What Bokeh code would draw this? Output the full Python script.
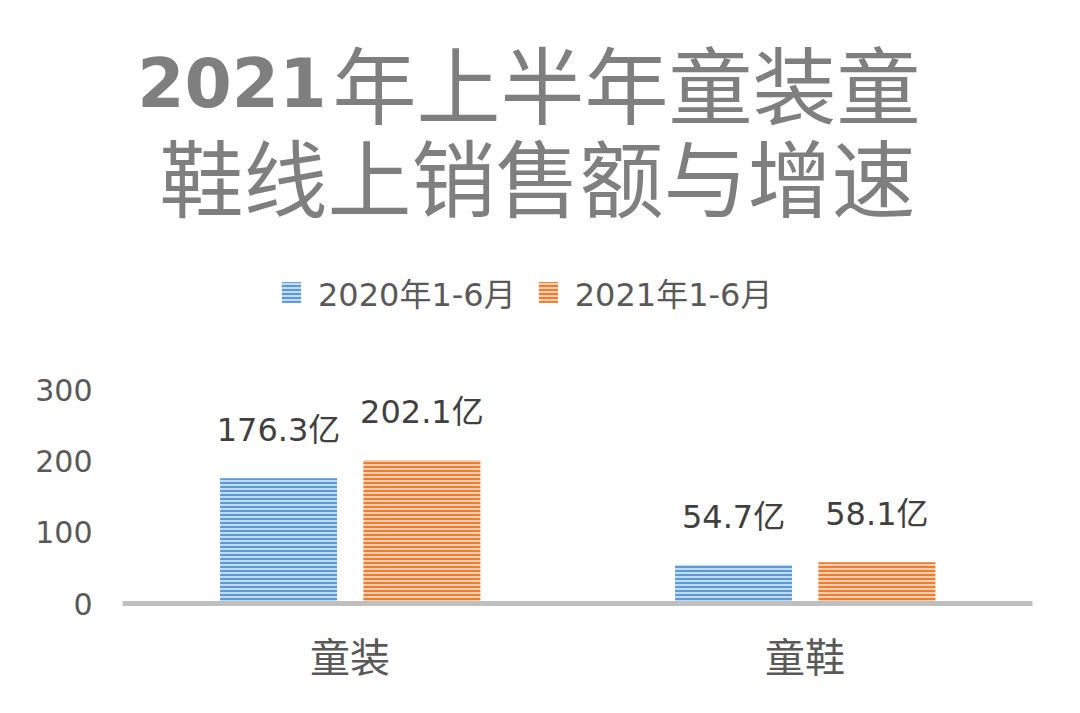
from bokeh.plotting import figure
from bokeh.models import ColumnDataSource, FactorRange, Label, Legend, LegendItem, FixedTicker
from bokeh.transform import dodge
from bokeh.core.properties import value
from bokeh.embed import file_html
from bokeh.resources import INLINE

categories = ["童装", "童鞋"]
series_names = ["2020年1-6月", "2021年1-6月"]
values_2020 = [176.3, 54.7]
values_2021 = [202.1, 58.1]
y_ticks = [0, 100, 200, 300]
title_year = "2021"
title_rest = "年上半年童装童"
title_line2 = "鞋线上销售额与增速"

LATIN = "'DejaVu Sans', 'Noto Sans CJK SC'"
CJK = "'Noto Sans CJK SC'"

src = ColumnDataSource(dict(
    cat=categories,
    v20=values_2020,
    v21=values_2021,
    l20=[f"{v}亿" for v in values_2020],
    l21=[f"{v}亿" for v in values_2021],
))

p = figure(
    width=1064, height=697,
    x_range=FactorRange(*categories, range_padding=0),
    y_range=(0, 849),
    output_backend="svg", toolbar_location=None,
    min_border_left=122, min_border_right=32,
    min_border_top=0, min_border_bottom=94,
)
p.outline_line_color = None
p.xgrid.visible = False
p.ygrid.visible = False
p.background_fill_color = "white"
p.border_fill_color = "white"

r1 = p.vbar(x=dodge("cat", -0.157, range=p.x_range), top="v20", width=0.257, source=src,
            fill_color="#c3dbf1", line_color=None,
            hatch_pattern="horizontal_line", hatch_color="#5b9bd5", hatch_scale=4, hatch_weight=2)
r2 = p.vbar(x=dodge("cat", 0.158, range=p.x_range), top="v21", width=0.257, source=src,
            fill_color="#f9cfb1", line_color=None,
            hatch_pattern="horizontal_line", hatch_color="#ed7d31", hatch_scale=4, hatch_weight=2)

p.text(x=dodge("cat", -0.157, range=p.x_range), y="v20", text="l20", source=src,
       text_align="center", text_baseline="middle", y_offset=-48,
       text_font=value(LATIN), text_font_size="32px", text_color="#404040")
p.text(x=dodge("cat", 0.158, range=p.x_range), y="v21", text="l21", source=src,
       text_align="center", text_baseline="middle", y_offset=-48,
       text_font=value(LATIN), text_font_size="32px", text_color="#404040")

# axes
p.yaxis.ticker = FixedTicker(ticks=y_ticks)
p.yaxis.axis_line_color = None
p.yaxis.major_tick_line_color = None
p.yaxis.minor_tick_line_color = None
p.yaxis.major_tick_out = 0
p.yaxis.major_label_standoff = 30
p.yaxis.major_label_text_font = LATIN
p.yaxis.major_label_text_font_size = "30px"
p.yaxis.major_label_text_color = "#595959"

p.xaxis.axis_line_color = "#bfbfbf"
p.xaxis.axis_line_width = 5
p.xaxis.major_tick_line_color = None
p.xaxis.minor_tick_line_color = None
p.xaxis.major_tick_out = 0
p.xaxis.major_label_standoff = 22
p.xaxis.major_label_text_font = CJK
p.xaxis.major_label_text_font_size = "40px"
p.xaxis.major_label_text_color = "#595959"

legend = Legend(
    items=[LegendItem(label=series_names[0], renderers=[r1]),
           LegendItem(label=series_names[1], renderers=[r2])],
    orientation="horizontal", location=(157, 288),
    glyph_width=24, glyph_height=26, label_standoff=15, spacing=20,
    label_text_font=LATIN, label_text_font_size="32px", label_text_color="#595959",
    background_fill_alpha=0, border_line_color=None, padding=0, margin=0,
)
p.add_layout(legend, "center")

# title
p.add_layout(Label(x=204, y=522, x_units="screen", y_units="screen", text=title_year,
                   text_align="right", text_baseline="alphabetic",
                   text_font="DejaVu Sans", text_font_style="bold", text_font_size="68px",
                   text_color="#7f7f7f"))
p.add_layout(Label(x=210, y=522, x_units="screen", y_units="screen", text=title_rest,
                   text_align="left", text_baseline="alphabetic",
                   text_font=CJK, text_font_size="84px", text_color="#7f7f7f"))
p.add_layout(Label(x=415, y=429, x_units="screen", y_units="screen", text=title_line2,
                   text_align="center", text_baseline="middle",
                   text_font=CJK, text_font_size="84px", text_color="#7f7f7f"))

open("out.html", "w").write(file_html(p, INLINE))
